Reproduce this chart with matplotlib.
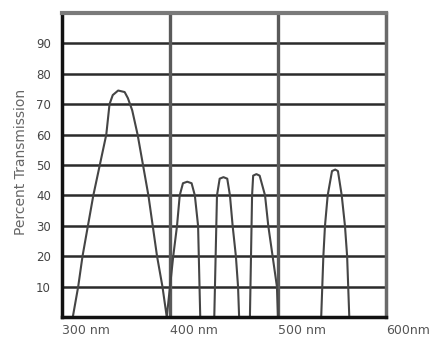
# Transmission curve of a multi-band filter, redrawn from a scanned chart
import matplotlib
matplotlib.use('Agg')
import matplotlib.pyplot as plt

# wavelength (nm) and percent transmission
wavelength = [300, 310, 315, 319, 324, 329, 335, 341, 344, 347, 352, 358, 361, 365, 370, 375,
              380, 384, 388, 393, 397,
              400, 403, 406.5, 409, 412, 416, 420, 423, 426, 428,
              441, 443.5, 446, 449.5, 453, 455.5, 458, 461, 463, 464,
              474, 476, 477, 480, 483, 488, 491, 495, 499, 500,
              540, 541, 542, 543.5, 546, 550, 553, 555.5, 559, 562, 564, 565, 566, 600]
transmission = [0, 0, 10, 20, 30, 40, 50, 60, 70, 73, 74.5, 74, 72, 68, 60, 50,
                40, 30, 20, 10, 0,
                10, 20, 30, 40, 44, 44.5, 44, 40, 30, 0,
                0, 40, 45.5, 46, 45.5, 40, 30, 20, 10, 0,
                0, 40, 46.5, 47, 46.5, 40, 30, 20, 10, 0,
                0, 10, 20, 30, 40, 48, 48.5, 48, 40, 30, 20, 10, 0, 0]

x_ticks = [300, 400, 500, 600]
x_labels = ['300 nm', '400 nm', '500 nm', '600nm']
y_ticks = [10, 20, 30, 40, 50, 60, 70, 80, 90]

fig = plt.figure(figsize=(4.29, 3.38), dpi=100)
ax = fig.add_axes([62 / 429, 1 - 317 / 338, 324 / 429, 304 / 338])

# grid: dark horizontal rules, grey vertical rules at 400 and 500 nm
for y in y_ticks:
    ax.axhline(y, color='#2b2b2b', lw=1.8, zorder=1)
for x in [400, 500]:
    ax.axvline(x, color='#5a5a5a', lw=2.4, zorder=1)

ax.plot(wavelength, transmission, color='#454545', lw=1.5, zorder=2)

ax.set_xlim(300, 600)
ax.set_ylim(0, 100)
ax.set_xticks(x_ticks)
ax.set_xticklabels(x_labels, ha='left', fontsize=9, color='#555555')
ax.set_yticks(y_ticks)
ax.set_yticklabels([str(v) for v in y_ticks], fontsize=8.5, color='#444444')
ax.tick_params(axis='both', length=0)
ax.tick_params(axis='y', pad=8)
ax.tick_params(axis='x', pad=5)

ax.set_ylabel('Percent Transmission', fontsize=10, color='#666666')
ax.yaxis.set_label_coords(-0.105, 0.51)

ax.spines['left'].set_color('#111111')
ax.spines['left'].set_linewidth(2.5)
ax.spines['bottom'].set_color('#111111')
ax.spines['bottom'].set_linewidth(2.5)
ax.spines['top'].set_color('#7a7a7a')
ax.spines['top'].set_linewidth(3)
ax.spines['right'].set_color('#6a6a6a')
ax.spines['right'].set_linewidth(2.5)
for s in ax.spines.values():
    s.set_zorder(3)

plt.savefig('out.png', dpi=100)
